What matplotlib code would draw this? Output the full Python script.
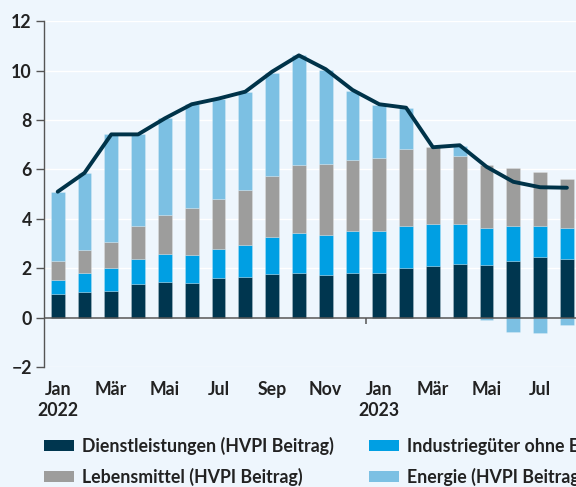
import numpy as np
import matplotlib.pyplot as plt
from matplotlib.patches import Patch

# Beitraege zur HVPI-Inflation, Jan 2022 - Aug 2023 (Prozentpunkte)
months = ['Jan', 'Feb', 'Mär', 'Apr', 'Mai', 'Jun', 'Jul', 'Aug', 'Sep', 'Okt', 'Nov', 'Dez',
          'Jan', 'Feb', 'Mär', 'Apr', 'Mai', 'Jun', 'Jul', 'Aug']
years = ['2022', '2023']

services = [0.97, 1.03, 1.09, 1.38, 1.46, 1.42, 1.59, 1.63, 1.78, 1.82, 1.74, 1.82,
            1.80, 2.00, 2.08, 2.19, 2.15, 2.31, 2.47, 2.39]
industrial = [0.57, 0.79, 0.91, 1.01, 1.12, 1.13, 1.18, 1.31, 1.47, 1.61, 1.62, 1.70,
              1.72, 1.73, 1.73, 1.62, 1.49, 1.42, 1.26, 1.25]
food = [0.75, 0.93, 1.08, 1.34, 1.58, 1.89, 2.05, 2.24, 2.47, 2.75, 2.86, 2.88,
        2.93, 3.11, 3.10, 2.75, 2.54, 2.33, 2.18, 1.99]
energy = [2.80, 3.11, 4.34, 3.69, 3.91, 4.20, 4.05, 3.97, 4.20, 4.44, 3.81, 2.79,
          2.16, 1.66, -0.03, 0.41, -0.08, -0.57, -0.61, -0.30]
headline = [5.10, 5.86, 7.42, 7.42, 8.07, 8.64, 8.87, 9.15, 9.96, 10.62, 10.06, 9.22,
            8.64, 8.50, 6.90, 6.98, 6.11, 5.50, 5.28, 5.26]

labels = ['Dienstleistungen (HVPI Beitrag)',
          'Industriegüter ohne Energie (HVPI Beitrag)',
          'Lebensmittel (HVPI Beitrag)',
          'Energie (HVPI Beitrag)']

bg = '#eef6fd'
c_serv = '#00364f'
c_ind = '#009fe3'
c_food = '#9d9d9c'
c_en = '#7cc0e3'
c_line = '#003349'
txt = '#222222'

plt.rcParams['font.family'] = ['Lato', 'DejaVu Sans']
plt.rcParams['font.weight'] = 'bold'
fs = 12.8

W, H = 576, 487
fig = plt.figure(figsize=(W / 100, H / 100), dpi=100)
fig.patch.set_facecolor(bg)

# axes run past the right edge, as in the cropped original
x_left, x_right = -0.5, 23.5
px0, step = 44.3, 26.8
ax_w = step * (x_right - x_left)
ax = fig.add_axes([px0 / W, 1 - 367 / H, ax_w / W, (367 - 21.3) / H])
ax.set_facecolor(bg)

x = np.arange(len(services))
serv = np.array(services)
ind = np.array(industrial)
fd = np.array(food)
en = np.array(energy)

bw = 0.51
ekw = dict(edgecolor=(1, 1, 1, 0.35), linewidth=0.4, zorder=2)
ax.bar(x, serv, bw, color=c_serv, **ekw)
ax.bar(x, ind, bw, bottom=serv, color=c_ind, **ekw)
ax.bar(x, fd, bw, bottom=serv + ind, color=c_food, **ekw)
ax.bar(x, en, bw, bottom=np.where(en >= 0, serv + ind + fd, 0), color=c_en, **ekw)

ax.plot(x, headline, color=c_line, lw=2.8, zorder=5, solid_joinstyle='round',
        solid_capstyle='round')

ax.axhline(0, color='#555555', lw=1.1, zorder=4)
ax.vlines([11.5], -0.25, 0, color='#555555', lw=1.1, zorder=4)

ax.set_xlim(x_left, x_right)
ax.set_ylim(-2, 12)
ax.set_yticks(np.arange(-2, 13, 2))
ax.set_yticklabels(['\u22122' if v < 0 else str(v) for v in range(-2, 13, 2)])
ax.yaxis.grid(True, color='white', lw=1.0)
ax.set_axisbelow(True)

tick_pos = list(range(0, len(months), 2))
tick_lab = []
for i in tick_pos:
    lab = months[i]
    if i % 12 == 0:
        lab += '\n' + years[i // 12]
    tick_lab.append(lab)
ax.set_xticks(tick_pos)
ax.set_xticklabels(tick_lab, linespacing=1.3)
ax.tick_params(axis='x', length=0, pad=10, labelsize=fs, labelcolor=txt)
ax.tick_params(axis='y', length=5.5, width=1, color='#555555', pad=3.5,
               labelsize=fs, labelcolor=txt)

for s in ['top', 'right', 'bottom']:
    ax.spines[s].set_visible(False)
ax.spines['left'].set_color('#555555')
ax.spines['left'].set_linewidth(1.0)

colors = [c_serv, c_ind, c_food, c_en]
handles = [Patch(facecolor=c, edgecolor='none') for c in colors]
lkw = dict(loc='upper left', frameon=False, borderpad=0, borderaxespad=0,
           handlelength=1.7, handleheight=0.6, handletextpad=0.42,
           labelspacing=0.72, fontsize=fs, labelcolor=txt)
fig.legend([handles[0], handles[2]], [labels[0], labels[2]],
           bbox_to_anchor=(44 / W, 1 - 437 / H), **lkw)
fig.legend([handles[1], handles[3]], [labels[1], labels[3]],
           bbox_to_anchor=(369 / W, 1 - 437 / H), **lkw)

fig.savefig('out.png', dpi=100, facecolor=bg)
